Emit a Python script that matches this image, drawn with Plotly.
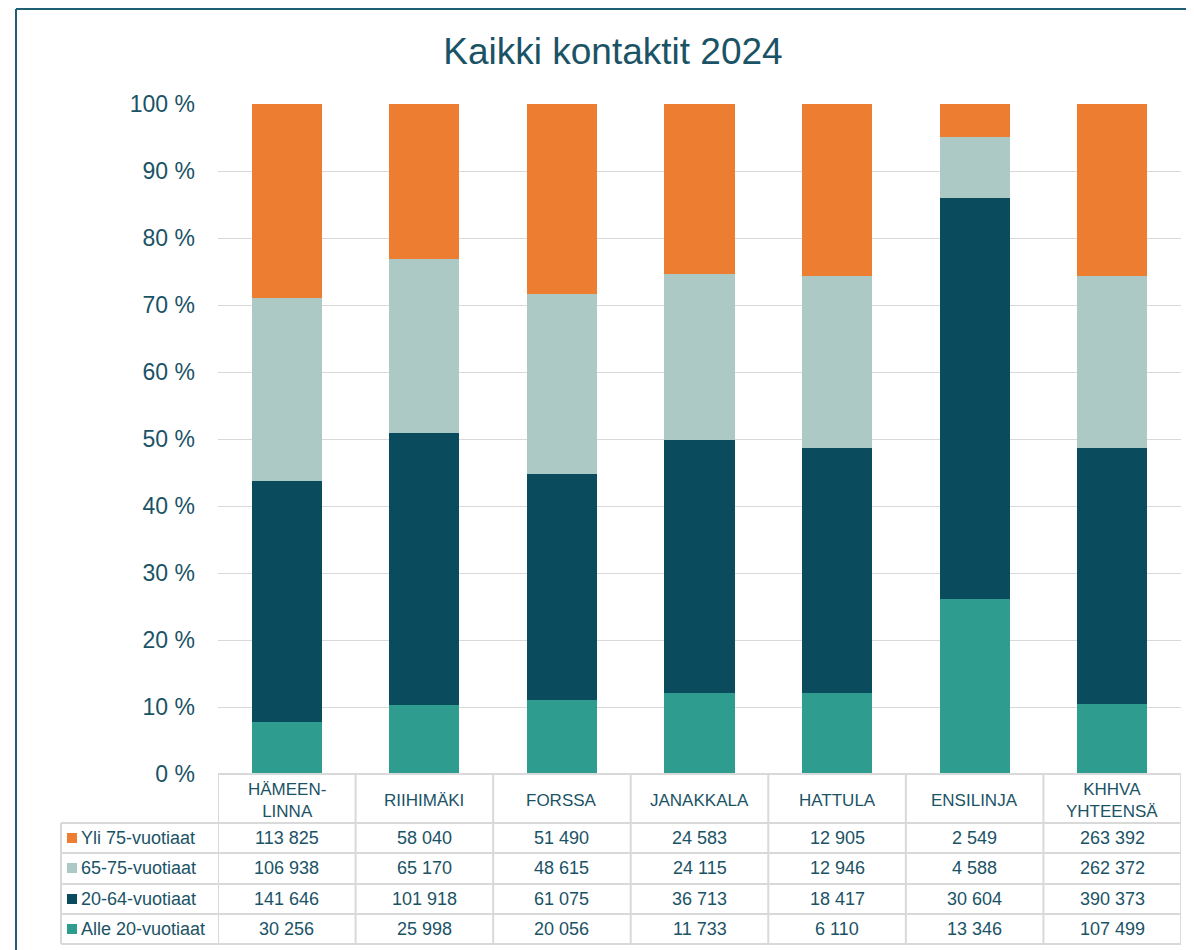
import plotly.graph_objects as go

# Data
categories = ["HÄMEEN-<br>LINNA", "RIIHIMÄKI", "FORSSA", "JANAKKALA", "HATTULA", "ENSILINJA", "KHHVA<br>YHTEENSÄ"]
series_names = ["Alle 20-vuotiaat", "20-64-vuotiaat", "65-75-vuotiaat", "Yli 75-vuotiaat"]
alle_20 = [30256, 25998, 20056, 11733, 6110, 13346, 107499]
v_20_64 = [141646, 101918, 61075, 36713, 18417, 30604, 390373]
v_65_75 = [106938, 65170, 48615, 24115, 12946, 4588, 262372]
yli_75 = [113825, 58040, 51490, 24583, 12905, 2549, 263392]
series_values = [alle_20, v_20_64, v_65_75, yli_75]
colors = ["#2E9D8F", "#0A4C5E", "#ADC9C5", "#ED7D31"]

TEXT = "#1B5366"
GRID = "#D9D9D9"
OFF = 8  # page body margin
W, H = 1194 - OFF, 950 - OFF
# plot area in page pixels
L, R, T, B = 218, 1181, 104, 774


def py(y):  # page pixel row -> paper y
    return (B - y) / (B - T)


def px(x):  # page pixel column -> paper x
    return (x - L) / (R - L)


def fmt(v):
    return f"{v:,}".replace(",", " ")


fig = go.Figure()
x_idx = list(range(len(categories)))
for name, vals, col in zip(series_names, series_values, colors):
    fig.add_trace(go.Bar(
        x=x_idx, y=vals, name=name, marker=dict(color=col, line=dict(width=0)),
        hovertemplate=name + ": %{y:,}<extra></extra>",
    ))

fig.update_layout(
    barmode="stack", barnorm="percent", bargap=0.49,
    width=W, height=H, showlegend=False,
    paper_bgcolor="white", plot_bgcolor="white",
    margin=dict(l=L - OFF, r=1194 - R, t=T - OFF, b=950 - B),
    font=dict(family="Liberation Sans, Arial, sans-serif", color=TEXT),
    title=dict(text="Kaikki kontaktit 2024", x=(613 - OFF) / W, xanchor="center", xref="container",
               y=1 - (51 - OFF) / H, yanchor="middle", font=dict(size=37, color=TEXT)),
    xaxis=dict(range=[-0.5, len(categories) - 0.5], showticklabels=False, showgrid=False,
               zeroline=False, fixedrange=True),
    yaxis=dict(range=[0, 100], dtick=10, ticksuffix=" %", showgrid=True, gridcolor=GRID,
               gridwidth=1, zeroline=False, tickfont=dict(size=23, color=TEXT),
               ticklabelstandoff=22, fixedrange=True),
)

shapes = []
line = dict(color=GRID, width=2)
rows = [774, 823, 853, 884, 914, 944]
# horizontal table lines
for i, y in enumerate(rows):
    x0 = 0 if i == 0 else px(61)
    shapes.append(dict(type="line", xref="paper", yref="paper", x0=x0, x1=1, y0=py(y), y1=py(y), line=line))
# vertical table lines
for k in range(len(categories) + 1):
    shapes.append(dict(type="line", xref="x", yref="paper", x0=k - 0.5, x1=k - 0.5,
                       y0=py(774), y1=py(944), line=line))
shapes.append(dict(type="line", xref="paper", yref="paper", x0=px(61), x1=px(61),
                   y0=py(823), y1=py(944), line=line))
# outer frame
frame = dict(color="#1F5F73", width=2)
shapes.append(dict(type="line", xref="paper", yref="paper", x0=px(16), x1=px(1200),
                   y0=py(9), y1=py(9), line=frame))
shapes.append(dict(type="line", xref="paper", yref="paper", x0=px(16), x1=px(16),
                   y0=py(9), y1=py(960), line=frame))

annotations = []
for k, c in enumerate(categories):
    annotations.append(dict(x=k, y=py(800), xref="x", yref="paper", text=c, showarrow=False,
                            font=dict(size=17, color=TEXT), xanchor="center", yanchor="middle"))

# table rows: top row is the top series
row_centers = [929, 899, 868, 838]
for name, vals, col, yc in zip(series_names, series_values, colors, row_centers):
    shapes.append(dict(type="rect", xref="paper", yref="paper", x0=px(67), x1=px(77),
                       y0=py(yc + 5), y1=py(yc - 5), fillcolor=col, line=dict(width=0)))
    annotations.append(dict(x=px(79), y=py(yc), xref="paper", yref="paper", text=name,
                            showarrow=False, font=dict(size=18, color=TEXT),
                            xanchor="left", yanchor="middle"))
    for k, v in enumerate(vals):
        annotations.append(dict(x=k, y=py(yc), xref="x", yref="paper", text=fmt(v),
                                showarrow=False, font=dict(size=18, color=TEXT),
                                xanchor="center", yanchor="middle"))

fig.update_layout(shapes=shapes, annotations=annotations)
fig.write_html("out.html")
